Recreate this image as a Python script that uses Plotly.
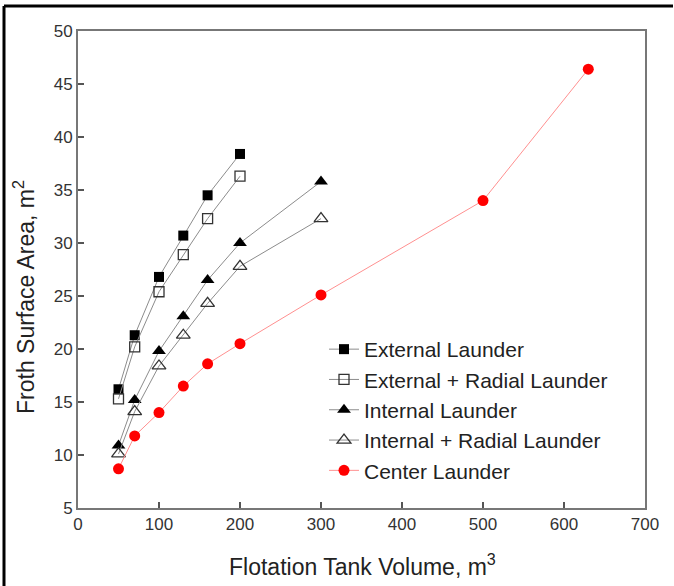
import plotly.graph_objects as go

x_ext = [50, 70, 100, 130, 160, 200]
y_ext = [16.2, 21.3, 26.8, 30.7, 34.5, 38.4]
y_ext_rad = [15.3, 20.2, 25.4, 28.9, 32.3, 36.3]

x_int = [50, 70, 100, 130, 160, 200, 300]
y_int = [10.9, 15.2, 19.8, 23.1, 26.5, 30.0, 35.8]
y_int_rad = [10.1, 14.1, 18.4, 21.3, 24.3, 27.8, 32.3]

x_cen = [50, 70, 100, 130, 160, 200, 300, 500, 630]
y_cen = [8.7, 11.8, 14.0, 16.5, 18.6, 20.5, 25.1, 34.0, 46.4]

names = ["External Launder", "External + Radial Launder", "Internal Launder",
         "Internal + Radial Launder", "Center Launder"]

FONT = "Liberation Sans, Arial, sans-serif"
gray = "#8c8c8c"

fig = go.Figure()
fig.add_trace(go.Scatter(x=x_ext, y=y_ext, name=names[0], mode="lines+markers",
                         line=dict(color=gray, width=1),
                         marker=dict(symbol="square", size=10, color="black")))
fig.add_trace(go.Scatter(x=x_ext, y=y_ext_rad, name=names[1], mode="lines+markers",
                         line=dict(color=gray, width=1),
                         marker=dict(symbol="square-open", size=10, color="#333",
                                     line=dict(width=1.3))))
fig.add_trace(go.Scatter(x=x_int, y=y_int, name=names[2], mode="lines+markers",
                         line=dict(color=gray, width=1),
                         marker=dict(symbol="triangle-up", size=12, color="black")))
fig.add_trace(go.Scatter(x=x_int, y=y_int_rad, name=names[3], mode="lines+markers",
                         line=dict(color=gray, width=1),
                         marker=dict(symbol="triangle-up-open", size=12, color="#333",
                                     line=dict(width=1.3))))
fig.add_trace(go.Scatter(x=x_cen, y=y_cen, name=names[4], mode="lines+markers",
                         line=dict(color="#ff9090", width=1),
                         marker=dict(symbol="circle", size=11, color="#ff0000")))

axis_common = dict(showline=True, linecolor="#777", linewidth=2, mirror=True,
                   ticks="inside", ticklen=6, tickcolor="#555", tickwidth=1.5,
                   showgrid=False, zeroline=False,
                   tickfont=dict(family=FONT, size=17, color="#333"))

fig.update_xaxes(range=[0, 700], dtick=100, tick0=0, **axis_common)
fig.update_yaxes(range=[5, 50], dtick=5, tick0=5, **axis_common)

L, R, T, B = 78, 645, 31, 508
W, H = 674, 586
def px(x):
    return (x - L) / (R - L)
def py(y):
    return (B - y) / (B - T)

fig.update_layout(
    width=W, height=H,
    margin=dict(l=L, r=W - R, t=T, b=H - B),
    paper_bgcolor="white", plot_bgcolor="white",
    font=dict(family=FONT, color="#222"),
    legend=dict(x=px(324), y=py(329), xanchor="left", yanchor="top",
                font=dict(family=FONT, size=21, color="#222"),
                bgcolor="rgba(0,0,0,0)", tracegroupgap=0),
    annotations=[
        dict(text="Flotation Tank Volume, m<sup>3</sup>", xref="paper", yref="paper",
             x=px(362), y=py(565), xanchor="center", yanchor="middle", showarrow=False,
             font=dict(family=FONT, size=23, color="#222")),
        dict(text="Froth Surface Area, m<sup>2</sup>", xref="paper", yref="paper",
             x=px(24), y=py(297), xanchor="center", yanchor="middle", showarrow=False,
             textangle=-90, font=dict(family=FONT, size=23, color="#222")),
    ],
    shapes=[
        dict(type="line", xref="paper", yref="paper", x0=px(4), x1=px(673),
             y0=py(6), y1=py(6), line=dict(color="black", width=3)),
        dict(type="line", xref="paper", yref="paper", x0=px(4), x1=px(4),
             y0=py(6), y1=py(590), line=dict(color="black", width=3)),
    ],
)

fig.write_html("out.html", config={"displayModeBar": False},
               post_script="document.body.style.margin='0';document.body.style.overflow='hidden';")
